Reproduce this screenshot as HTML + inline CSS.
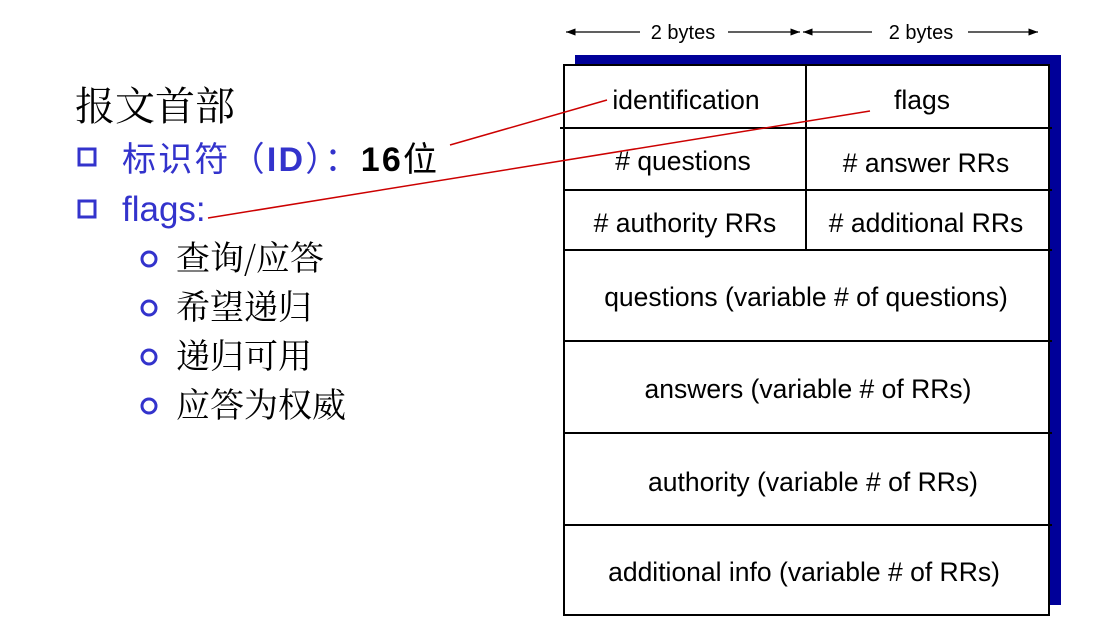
<!DOCTYPE html>
<html><head><meta charset="utf-8"><style>
html,body{margin:0;padding:0;background:#fff;}
</style></head><body>
<svg width="1105" height="626" xmlns="http://www.w3.org/2000/svg" style="display:block">
<defs><marker id="ah" markerWidth="8" markerHeight="6" refX="8" refY="3" orient="auto"><path d="M0,0 L8,3 L0,6 z" fill="#000"/></marker></defs>
<g font-family="Liberation Sans, sans-serif" font-size="20" fill="#000" text-anchor="middle">
<line x1="640" y1="32" x2="566" y2="32" stroke="#000" stroke-width="1.2" marker-end="url(#ah)"/>
<line x1="728" y1="32" x2="800" y2="32" stroke="#000" stroke-width="1.2" marker-end="url(#ah)"/>
<text x="683" y="39">2 bytes</text>
<line x1="872" y1="32" x2="803" y2="32" stroke="#000" stroke-width="1.2" marker-end="url(#ah)"/>
<line x1="968" y1="32" x2="1038" y2="32" stroke="#000" stroke-width="1.2" marker-end="url(#ah)"/>
<text x="921" y="39">2 bytes</text>
<rect x="575" y="55" width="486" height="550" fill="#000099"/>
<rect x="564" y="65" width="485" height="550" fill="#fff" stroke="#000" stroke-width="2"/>
<g stroke="#000" stroke-width="2">
<line x1="560" y1="128" x2="1052" y2="128"/>
<line x1="564" y1="190" x2="1052" y2="190"/>
<line x1="564" y1="250" x2="1052" y2="250"/>
<line x1="564" y1="341" x2="1052" y2="341"/>
<line x1="564" y1="433" x2="1052" y2="433"/>
<line x1="564" y1="525" x2="1052" y2="525"/>
<line x1="806" y1="65" x2="806" y2="250"/>
</g>
<g font-size="26.5">
<text x="686" y="109">identification</text>
<text x="922" y="109">flags</text>
<text x="683" y="170">#&#160;questions</text>
<text x="926" y="172">#&#160;answer RRs</text>
<text x="685" y="232">#&#160;authority RRs</text>
<text x="926" y="232">#&#160;additional RRs</text>
<text x="806" y="306">questions (variable # of questions)</text>
<text x="808" y="398">answers (variable # of RRs)</text>
<text x="813" y="491">authority (variable # of RRs)</text>
<text x="804" y="581">additional info (variable # of RRs)</text>
</g>
</g>
<g stroke="#cc0000" stroke-width="1.5">
<line x1="450" y1="145" x2="607" y2="100"/>
<line x1="208" y1="218" x2="870" y2="111"/>
</g>
<g font-family="Liberation Sans, Noto Sans CJK SC, sans-serif">
<text x="75" y="120" font-size="40" fill="#000" font-family="Noto Serif CJK SC, serif">报文首部</text>
<rect x="79" y="149" width="16" height="16" fill="none" stroke="#3333cc" stroke-width="3"/>
<rect x="79" y="201" width="16" height="16" fill="none" stroke="#3333cc" stroke-width="3"/>
<text x="122" y="171" font-size="34" fill="#3333cc" textLength="315">标识符（<tspan font-weight="bold">ID</tspan>）：<tspan fill="#000" font-weight="bold">16</tspan><tspan fill="#000">位</tspan></text>
<text x="122" y="221" font-size="35" fill="#3333cc">flags:</text>
<g fill="none" stroke="#3333cc" stroke-width="3">
<circle cx="149" cy="259" r="7"/><circle cx="149" cy="308" r="7"/><circle cx="149" cy="357" r="7"/><circle cx="149" cy="406" r="7"/>
</g>
<g font-size="34" fill="#000" font-family="Noto Serif CJK SC, serif">
<text x="176" y="270">查询/应答</text>
<text x="176" y="319">希望递归</text>
<text x="176" y="368">递归可用</text>
<text x="176" y="417">应答为权威</text>
</g>
</g>
</svg>
</body></html>
